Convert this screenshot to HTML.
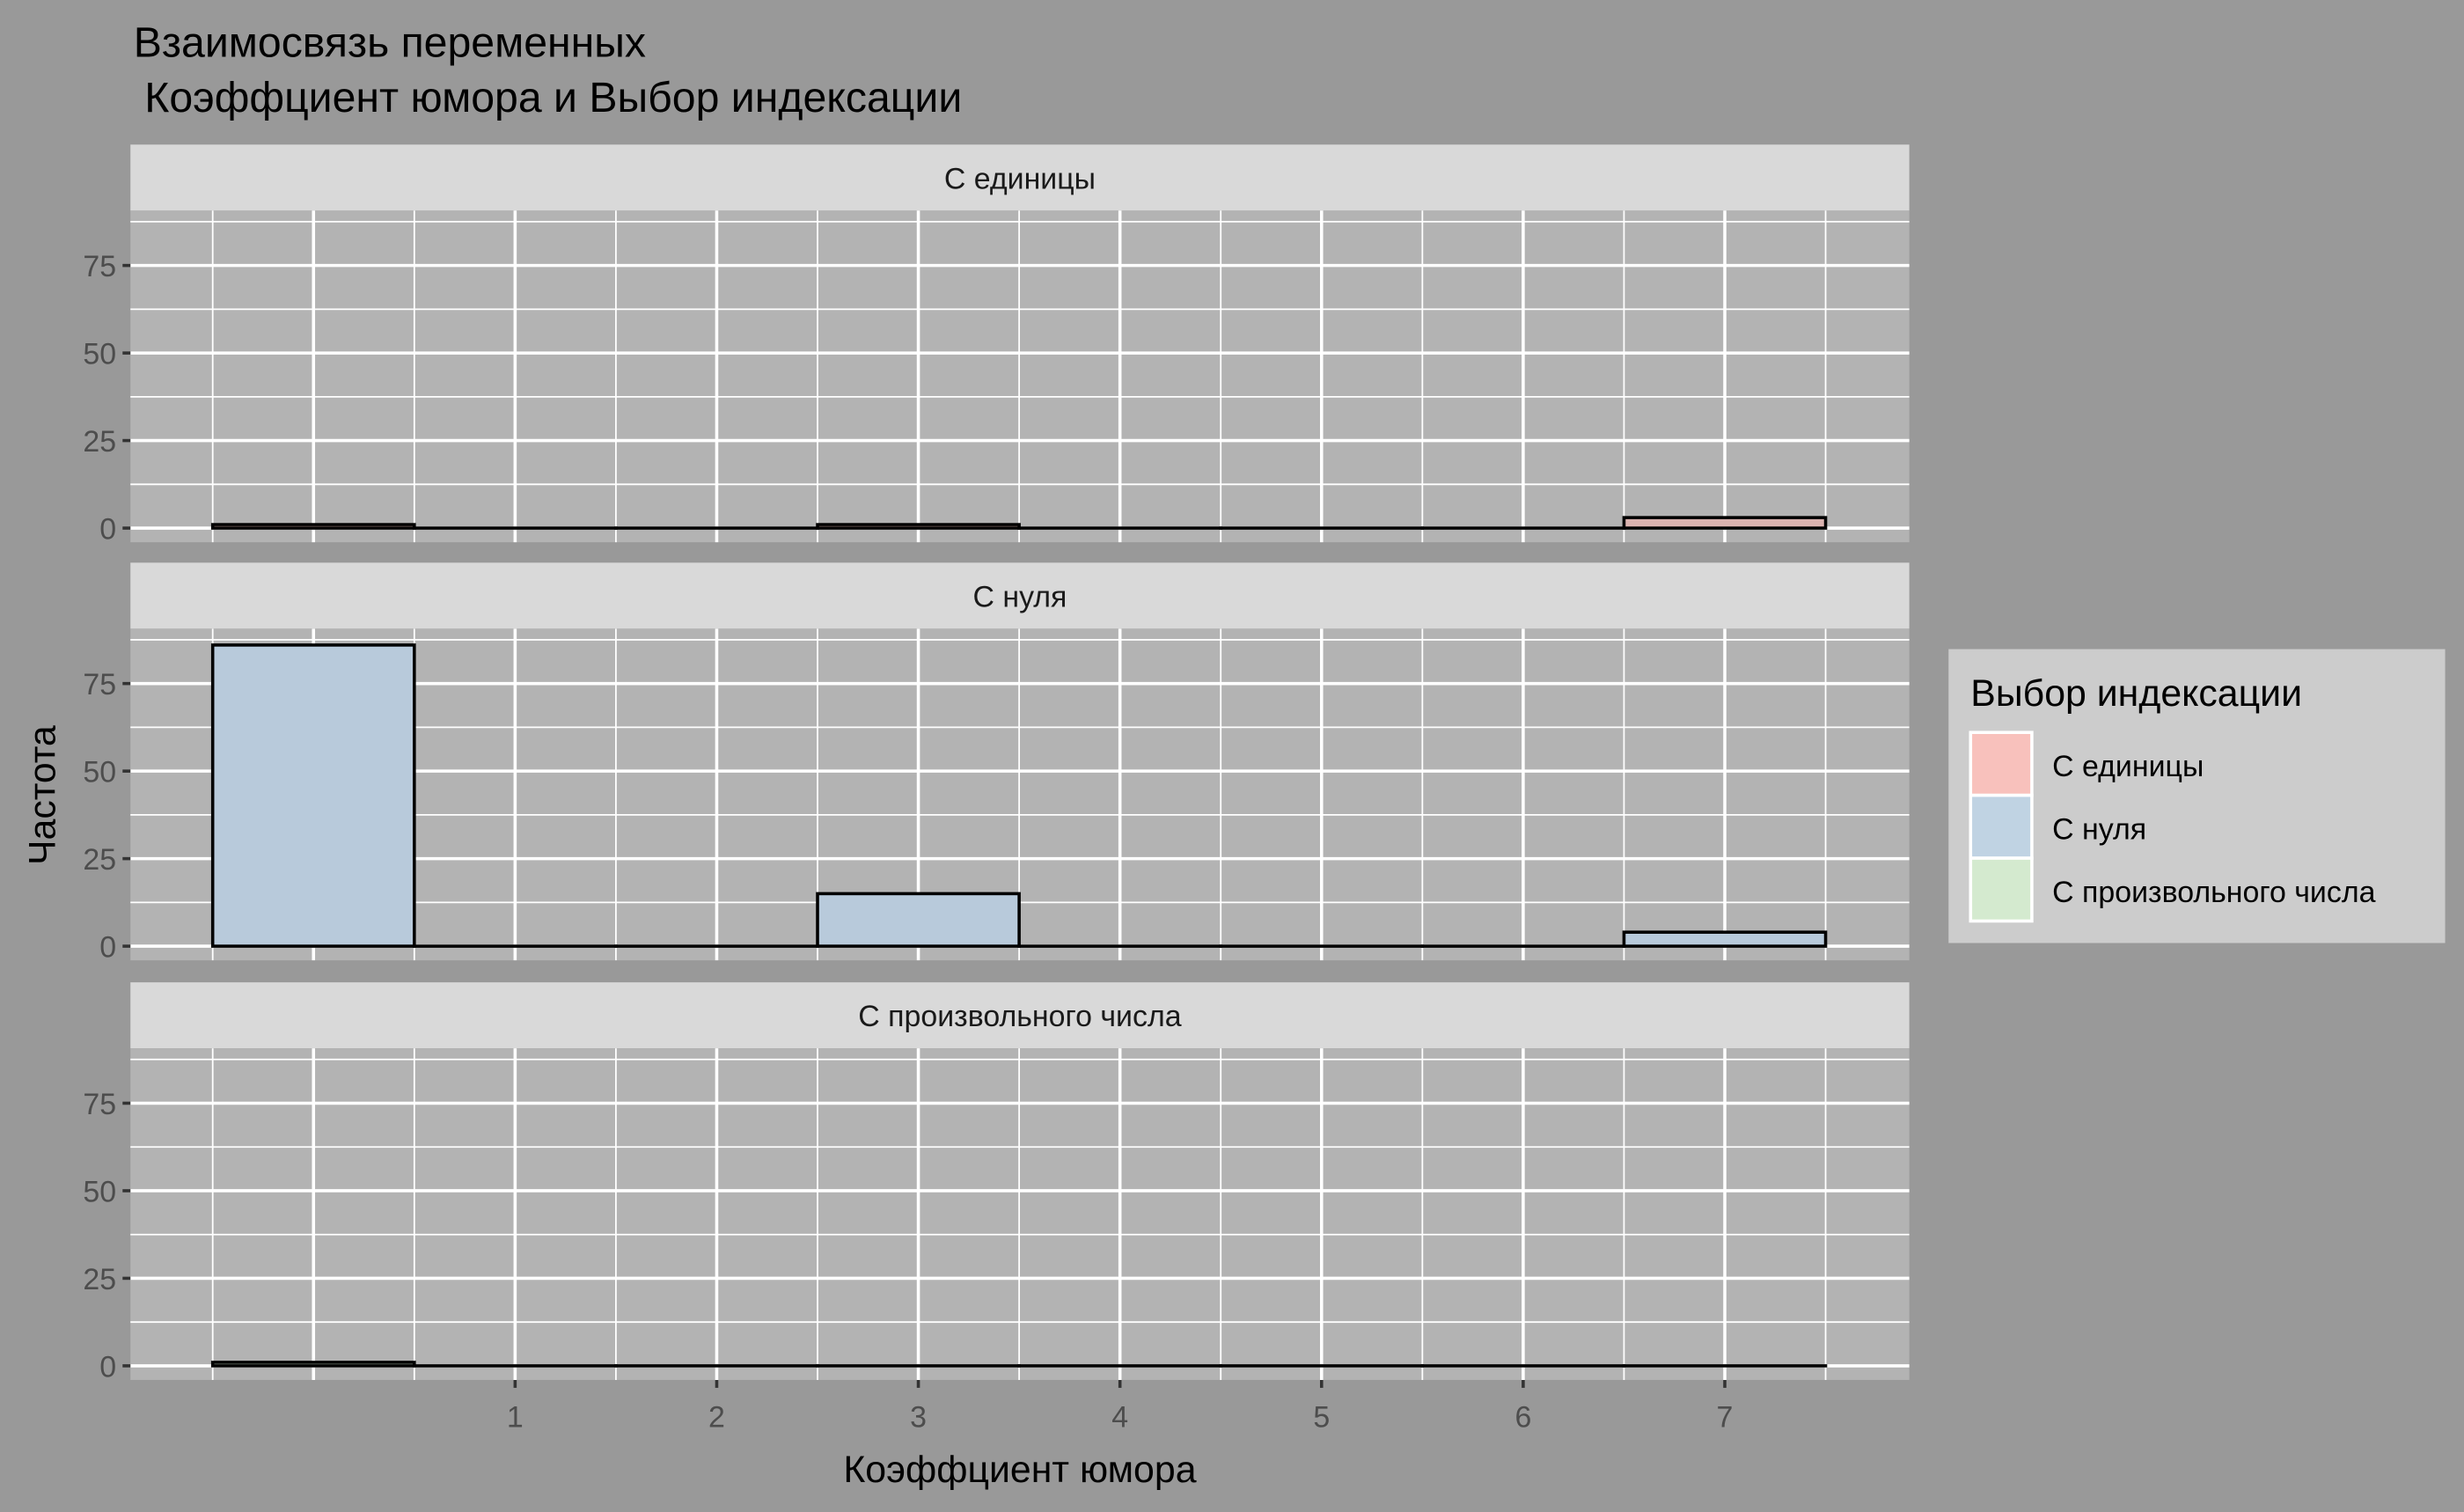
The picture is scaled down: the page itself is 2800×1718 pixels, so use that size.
<!DOCTYPE html>
<html><head><meta charset="utf-8">
<style>html,body{margin:0;padding:0;background:#999999;}svg{display:block;font-family:"Liberation Sans","Noto Sans CJK SC",sans-serif;}</style>
</head><body>
<svg id="chart" width="2800" height="1718" viewBox="0 0 1568 962" preserveAspectRatio="none" xmlns="http://www.w3.org/2000/svg">
<rect x="0" y="0" width="1568" height="962" fill="#999999"/>
<text x="85" y="36" font-size="27" fill="#000">Взаимосвязь переменных</text>
<text x="92" y="71" font-size="27" fill="#000">Коэффциент юмора и Выбор индексации</text>
<g id="panels"></g>
<text x="649" y="943" font-size="24" text-anchor="middle" fill="#000">Коэффциент юмора</text>
<text transform="translate(35,506) rotate(-90)" font-size="24" text-anchor="middle" fill="#000">Частота</text>
<g>
<rect x="1240" y="413" width="316" height="187" fill="#cccccc"/>
<text x="1254" y="449" font-size="24" fill="#000">Выбор индексации</text>
<g id="legend-items"></g>
</g>
</svg>
<script>
const categories = ["С единицы", "С нуля", "С произвольного числа"];
const bins = [0, 1, 2, 3, 4, 5, 6, 7];
const countsEdinicy = [1, 0, 0, 1, 0, 0, 0, 3];
const countsNulya = [86, 0, 0, 15, 0, 0, 0, 4];
const countsProizv = [1, 0, 0, 0, 0, 0, 0, 0];
const xTicks = [1, 2, 3, 4, 5, 6, 7];
const yTicks = [0, 25, 50, 75];
const fills = ["#dbb3b0", "#b8cadb", "#c4d6c2"];
const legendFills = ["#f8c1bc", "#c0d3e3", "#d4eacf"];

const NS = "http://www.w3.org/2000/svg";
const PX0 = 83, PX1 = 1215;
const panelTops = [134, 400, 667];
const PH = 211;
function xs(v){ return 199.5 + v * 128.3; }
function ys(top, v){ return top + 202 - v * 2.228; }
function el(tag, attrs, parent){ const e = document.createElementNS(NS, tag); for (const k in attrs) e.setAttribute(k, attrs[k]); parent.appendChild(e); return e; }

const panelsG = document.getElementById("panels");
const allCounts = [countsEdinicy, countsNulya, countsProizv];
categories.forEach((cat, p) => {
  const top = panelTops[p];
  const g = el("g", {}, panelsG);
  
  
  const strip = el("rect", {x: PX0, y: top - 42, width: PX1 - PX0, height: 42, fill: "#d9d9d9"}, g);
  
  
  const st = el("text", {x: (PX0 + PX1) / 2, y: top - 14, "font-size": 19, "text-anchor": "middle", fill: "#1a1a1a"}, g);
  st.textContent = cat;
  
  
  el("rect", {x: PX0, y: top, width: PX1 - PX0, height: PH, fill: "#b3b3b3"}, g);
  for (let v = -0.5; v <= 7.5; v += 1) el("line", {x1: xs(v), x2: xs(v), y1: top, y2: top + PH, stroke: "#ffffff", "stroke-width": 1}, g);
  for (let v = 12.5; v <= 90; v += 25) el("line", {x1: PX0, x2: PX1, y1: ys(top, v), y2: ys(top, v), stroke: "#ffffff", "stroke-width": 1}, g);
  for (let v = 0; v <= 7; v++) el("line", {x1: xs(v), x2: xs(v), y1: top, y2: top + PH, stroke: "#ffffff", "stroke-width": 2}, g);
  yTicks.forEach(v => {
    el("line", {x1: PX0, x2: PX1, y1: ys(top, v), y2: ys(top, v), stroke: "#ffffff", "stroke-width": 2}, g);
    el("line", {x1: PX0 - 5, x2: PX0, y1: ys(top, v), y2: ys(top, v), stroke: "#333", "stroke-width": 2}, g);
    const t = el("text", {x: PX0 - 9, y: ys(top, v) + 7, "font-size": 19, "text-anchor": "end", fill: "#4d4d4d"}, g);
    t.textContent = v;
    
    
  });
  const counts = allCounts[p];
  bins.forEach((b, i) => {
    const c = counts[i];
    const y = ys(top, c), y0 = ys(top, 0);
    const r = el("rect", {x: xs(b - 0.5), y: Math.min(y, y0), width: xs(b + 0.5) - xs(b - 0.5), height: Math.max(Math.abs(y0 - y), 0.01), fill: fills[p], stroke: "#000", "stroke-width": 2}, g);
    
    
  });
});
const axG = el("g", {}, panelsG);


const bottom = panelTops[2] + PH;
xTicks.forEach(v => {
  el("line", {x1: xs(v), x2: xs(v), y1: bottom, y2: bottom + 5, stroke: "#333", "stroke-width": 2}, axG);
  const t = el("text", {x: xs(v), y: bottom + 30, "font-size": 19, "text-anchor": "middle", fill: "#4d4d4d"}, axG);
  t.textContent = v;
  
  
});
const lg = document.getElementById("legend-items");
categories.forEach((cat, i) => {
  const y = 466 + i * 40;
  const k = el("rect", {x: 1254, y: y, width: 39, height: 40, fill: legendFills[i], stroke: "#ffffff", "stroke-width": 2}, lg);
  
  
  const t = el("text", {x: 1306, y: y + 28, "font-size": 19, fill: "#000"}, lg);
  t.textContent = cat;
  
  
});
</script>
</body></html>
